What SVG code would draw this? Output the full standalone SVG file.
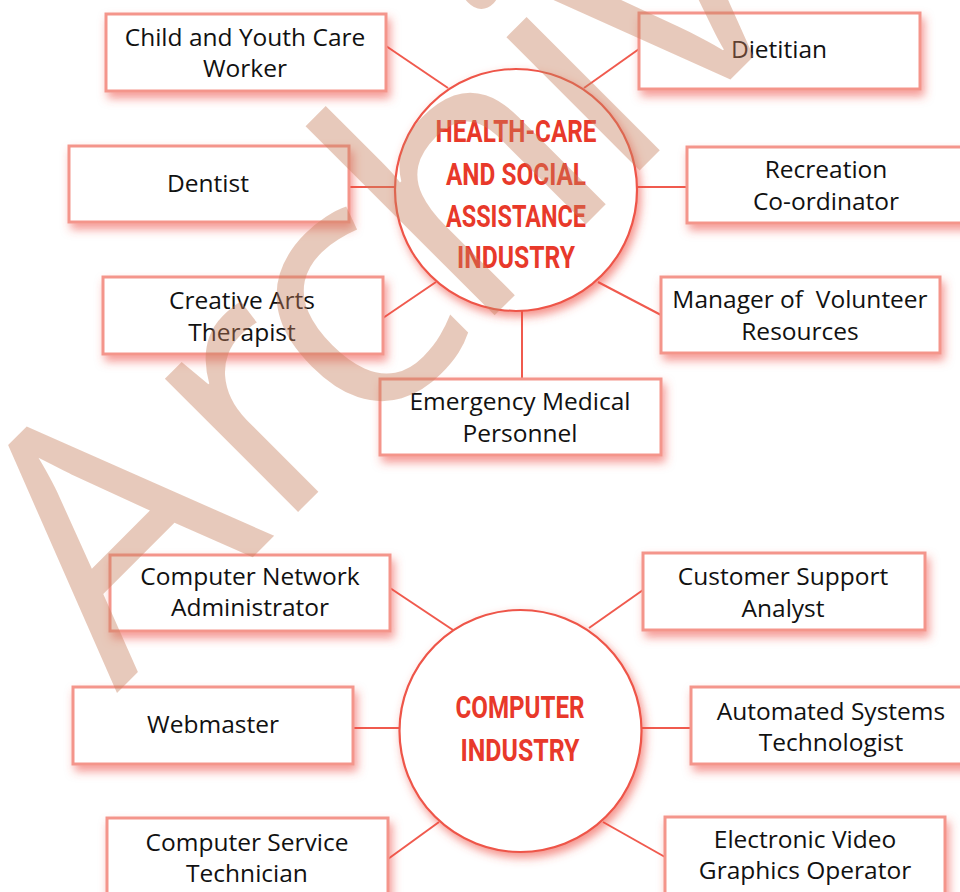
<svg xmlns="http://www.w3.org/2000/svg" width="960" height="892" viewBox="0 0 960 892">
<defs>
<filter id="sh" x="-20%" y="-30%" width="150%" height="170%">
<feDropShadow dx="3" dy="6" stdDeviation="5" flood-color="#ee4a3c" flood-opacity="0.55"/>
</filter>
<filter id="shc" x="-20%" y="-20%" width="150%" height="150%">
<feDropShadow dx="3" dy="5" stdDeviation="5" flood-color="#ee4a3c" flood-opacity="0.6"/>
</filter>
<style>
.box{fill:#fff;stroke:#f4958b;stroke-width:3;filter:url(#sh)}
.hub{fill:#fff;stroke:#ee5548;stroke-width:2.2;filter:url(#shc)}
.lbl{font-family:"Open Sans","Liberation Sans",sans-serif;font-size:24.5px;fill:#111;text-anchor:middle;white-space:pre}
.hd{font-family:Roboto,"Liberation Sans",sans-serif;font-weight:700;font-size:32px;fill:#e8392a;text-anchor:middle}
.ln{stroke:#f05a4e;stroke-width:2;fill:none}
.wm{font-family:"Open Sans","Liberation Sans",sans-serif;font-size:352px;fill:#c8805e;opacity:0.42}
</style>
</defs>
<rect width="960" height="892" fill="#fff"/>
<g id="connectors">
<line class="ln" x1="386" y1="46" x2="448" y2="88"/>
<line class="ln" x1="639" y1="49" x2="584" y2="88"/>
<line class="ln" x1="349" y1="187" x2="396" y2="187"/>
<line class="ln" x1="636" y1="187" x2="687" y2="187"/>
<line class="ln" x1="383" y1="318" x2="436" y2="282"/>
<line class="ln" x1="598" y1="282" x2="661" y2="315"/>
<line class="ln" x1="522" y1="310" x2="522" y2="379"/>
<line class="ln" x1="390" y1="588" x2="453" y2="630"/>
<line class="ln" x1="643" y1="590" x2="589" y2="628"/>
<line class="ln" x1="353" y1="728" x2="400" y2="728"/>
<line class="ln" x1="641" y1="728" x2="691" y2="728"/>
<line class="ln" x1="388" y1="859" x2="439" y2="822"/>
<line class="ln" x1="603" y1="822" x2="665" y2="857"/>
</g>
<g id="hub-health">
<circle class="hub" cx="516" cy="190" r="121"/>
<text class="hd" x="516" y="142" textLength="161" lengthAdjust="spacingAndGlyphs">HEALTH-CARE</text>
<text class="hd" x="516" y="185" textLength="140" lengthAdjust="spacingAndGlyphs">AND SOCIAL</text>
<text class="hd" x="516" y="227" textLength="140" lengthAdjust="spacingAndGlyphs">ASSISTANCE</text>
<text class="hd" x="516" y="268" textLength="118" lengthAdjust="spacingAndGlyphs">INDUSTRY</text>
</g>
<g id="hub-computer">
<circle class="hub" cx="520.5" cy="731" r="121"/>
<text class="hd" x="520" y="718" textLength="129" lengthAdjust="spacingAndGlyphs">COMPUTER</text>
<text class="hd" x="520" y="761" textLength="119" lengthAdjust="spacingAndGlyphs">INDUSTRY</text>
</g>
<g id="child-youth">
<rect class="box" x="106" y="14" width="280" height="77"/>
<text class="lbl" x="245" y="46">Child and Youth Care</text>
<text class="lbl" x="245" y="77">Worker</text>
</g>
<g id="dietitian">
<rect class="box" x="639" y="13" width="281" height="76"/>
<text class="lbl" x="779" y="58">Dietitian</text>
</g>
<g id="dentist">
<rect class="box" x="69" y="146" width="280" height="76"/>
<text class="lbl" x="208" y="192">Dentist</text>
</g>
<g id="recreation">
<rect class="box" x="687" y="147" width="282" height="76"/>
<text class="lbl" x="826" y="178">Recreation</text>
<text class="lbl" x="826" y="210">Co-ordinator</text>
</g>
<g id="creative-arts">
<rect class="box" x="103" y="277" width="280" height="77"/>
<text class="lbl" x="242" y="309">Creative Arts</text>
<text class="lbl" x="242" y="341">Therapist</text>
</g>
<g id="manager">
<rect class="box" x="661" y="277" width="279" height="76"/>
<text class="lbl" x="800" y="308">Manager of  Volunteer</text>
<text class="lbl" x="800" y="340">Resources</text>
</g>
<g id="emergency">
<rect class="box" x="380" y="379" width="281" height="76"/>
<text class="lbl" x="520" y="410">Emergency Medical</text>
<text class="lbl" x="520" y="442">Personnel</text>
</g>
<g id="network-admin">
<rect class="box" x="110" y="555" width="280" height="76"/>
<text class="lbl" x="250" y="585">Computer Network</text>
<text class="lbl" x="250" y="616">Administrator</text>
</g>
<g id="customer-support">
<rect class="box" x="643" y="553" width="282" height="77"/>
<text class="lbl" x="783" y="585">Customer Support</text>
<text class="lbl" x="783" y="617">Analyst</text>
</g>
<g id="webmaster">
<rect class="box" x="73" y="687" width="280" height="77"/>
<text class="lbl" x="213" y="733">Webmaster</text>
</g>
<g id="automated">
<rect class="box" x="691" y="687" width="280" height="77"/>
<text class="lbl" x="831" y="720">Automated Systems</text>
<text class="lbl" x="831" y="751">Technologist</text>
</g>
<g id="service-tech">
<rect class="box" x="107" y="818" width="281" height="90"/>
<text class="lbl" x="247" y="851">Computer Service</text>
<text class="lbl" x="247" y="882">Technician</text>
</g>
<g id="video-graphics">
<rect class="box" x="665" y="817" width="280" height="90"/>
<text class="lbl" x="805" y="848">Electronic Video</text>
<text class="lbl" x="805" y="879">Graphics Operator</text>
</g>
<text class="wm" transform="translate(117,693) rotate(-45)" x="0 226 349 504 709 796 968" y="0">Archive</text>
</svg>
